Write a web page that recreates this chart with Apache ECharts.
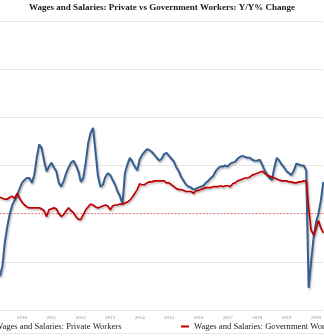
<!DOCTYPE html>
<html>
<head>
<meta charset="utf-8">
<script src="https://cdn.jsdelivr.net/npm/echarts@6/dist/echarts.min.js"></script>
<style>
html,body{margin:0;padding:0;background:#fff;}
#chart{width:324px;height:336px;}
</style>
</head>
<body>
<div id="chart"></div>
<script>
// Monthly Y/Y % change, Oct 2009 .. Oct 2020
const startYear = 2009;
const startMonth = 10;
const privateWorkers = [
  -6.5,-5.4,-2.9,-1.3,
  0.0,0.9,1.4,1.9,2.6,3.2,3.5,3.7,3.7,3.2,
  4.0,5.8,7.2,6.8,5.5,4.4,4.9,5.3,4.8,4.4,
  3.2,2.8,3.4,4.2,4.8,5.3,5.5,5.0,4.4,3.3,
  3.7,5.3,7.3,8.4,8.9,6.4,3.9,2.8,3.0,3.8,
  4.2,4.0,3.5,3.0,2.3,1.8,1.0,4.2,5.1,5.8,
  5.4,4.9,4.5,5.6,6.1,6.4,6.7,6.6,6.4,6.1,
  5.8,5.5,5.7,6.2,6.3,6.0,5.7,5.4,4.8,4.4,
  3.8,3.4,3.0,2.8,2.7,2.5,2.6,2.7,2.8,2.9,
  3.2,3.4,3.7,3.9,4.4,4.7,4.9,4.9,5.0,4.9,
  5.2,5.3,5.4,5.7,5.9,6.0,5.9,5.8,5.8,5.6,
  5.5,5.5,5.6,5.1,4.5,4.1,3.7,3.5,4.8,5.8,
  5.5,5.1,4.8,4.4,4.2,4.0,4.5,5.2,5.1,5.0,
  5.0,4.5,-7.7,-5.0,-2.5,-0.9,0.0,1.4,3.3
];
const governmentWorkers = [
  1.7,1.6,1.5,1.5,
  1.7,1.8,1.6,2.1,1.6,1.2,0.9,0.7,0.6,0.6,
  0.6,0.6,0.6,0.5,0.3,-0.3,0.4,0.5,0.6,0.5,
  0.0,-0.3,-0.1,0.3,0.6,0.3,0.1,-0.3,-0.6,-0.6,
  -0.1,0.4,0.7,1.0,0.9,0.7,0.6,0.7,0.8,0.9,
  0.8,0.4,0.8,0.9,0.9,1.0,1.0,1.1,1.2,1.4,
  1.7,2.1,2.5,3.1,3.0,3.0,3.2,3.3,3.3,3.4,
  3.4,3.4,3.4,3.4,3.2,3.2,3.0,2.8,2.6,2.5,
  2.5,2.4,2.3,2.3,2.3,2.1,2.4,2.4,2.5,2.6,
  2.7,2.7,2.7,2.8,2.8,2.8,2.9,2.8,2.9,2.9,
  2.8,3.1,3.2,3.4,3.5,3.6,3.7,3.7,3.8,4.0,
  4.1,4.2,4.3,4.4,4.2,4.0,3.9,3.8,3.7,3.6,
  3.5,3.4,3.4,3.4,3.3,3.3,3.2,3.2,3.3,3.3,
  3.4,3.4,0.6,-1.7,-2.2,-1.6,-0.7,-1.5,-2.0
];
const zeroLine = 0;
const yMin = -10, yMax = 20, yStep = 5;

const months = [];
for (let i = 0; i < privateWorkers.length; i++) {
  const t = (startMonth - 1) + i;
  const y = startYear + Math.floor(t / 12);
  const m = (t % 12) + 1;
  months.push(y + '-' + (m < 10 ? '0' + m : m));
}
const zeroSeries = months.map(function () { return zeroLine; });

const serif = "'Liberation Serif','DejaVu Serif',serif";
const chart = echarts.init(document.getElementById('chart'), null, {renderer: 'canvas'});
chart.setOption({
  animation: false,
  backgroundColor: '#ffffff',
  title: {
    text: 'Wages and Salaries: Private vs Government Workers: Y/Y% Change',
    left: 'center',
    top: 3,
    padding: 0,
    textStyle: {fontFamily: serif, fontSize: 9, fontWeight: 'bold', color: '#1a1a1a'}
  },
  legend: [
    {
      data: ['Wages and Salaries: Private Workers'],
      left: -18, top: 322, padding: 0,
      icon: 'rect', itemWidth: 8, itemHeight: 2,
      textStyle: {fontFamily: serif, fontSize: 8.6, color: '#1a1a1a'}
    },
    {
      data: ['Wages and Salaries: Government Workers'],
      left: 181, top: 322, padding: 0,
      icon: 'rect', itemWidth: 8, itemHeight: 2,
      textStyle: {fontFamily: serif, fontSize: 8.6, color: '#1a1a1a'}
    }
  ],
  grid: {left: 0, right: 0, top: 21, bottom: 26, containLabel: false},
  xAxis: {
    type: 'category',
    data: months,
    boundaryGap: false,
    axisLine: {show: false},
    axisTick: {show: false},
    splitLine: {show: false},
    axisLabel: {
      interval: function (idx, val) { return String(val).slice(5) === '07'; },
      formatter: function (val) { return String(val).slice(0, 4); },
      fontFamily: serif, fontSize: 5, color: '#8a8a8a', margin: 5
    }
  },
  yAxis: {
    type: 'value',
    min: yMin, max: yMax, interval: yStep,
    axisLabel: {show: false},
    axisLine: {show: false},
    axisTick: {show: false},
    splitLine: {lineStyle: {color: '#e6e6e6', width: 1}}
  },
  graphic: [
    {type: 'line', shape: {x1: 0, y1: 333.5, x2: 324, y2: 333.5}, style: {stroke: '#e8e8e8', lineWidth: 1}, silent: true}
  ],
  series: [
    {
      name: 'zero',
      type: 'line',
      data: zeroSeries,
      showSymbol: false,
      silent: true,
      color: '#ff5050',
      lineStyle: {width: 1, color: '#ff5050', type: [1.5, 2], opacity: 0.9},
      z: 1
    },
    {
      name: 'Wages and Salaries: Private Workers',
      type: 'line',
      data: privateWorkers,
      showSymbol: false,
      color: '#365f91',
      lineStyle: {width: 2, color: '#365f91', shadowColor: 'rgba(0,0,0,0.3)', shadowBlur: 2, shadowOffsetX: 1, shadowOffsetY: 1.5},
      z: 3
    },
    {
      name: 'Wages and Salaries: Government Workers',
      type: 'line',
      data: governmentWorkers,
      showSymbol: false,
      color: '#c00000',
      lineStyle: {width: 1.7, color: '#c00000', shadowColor: 'rgba(0,0,0,0.3)', shadowBlur: 2, shadowOffsetX: 1, shadowOffsetY: 1.5},
      z: 4
    }
  ]
});
</script>
</body>
</html>
